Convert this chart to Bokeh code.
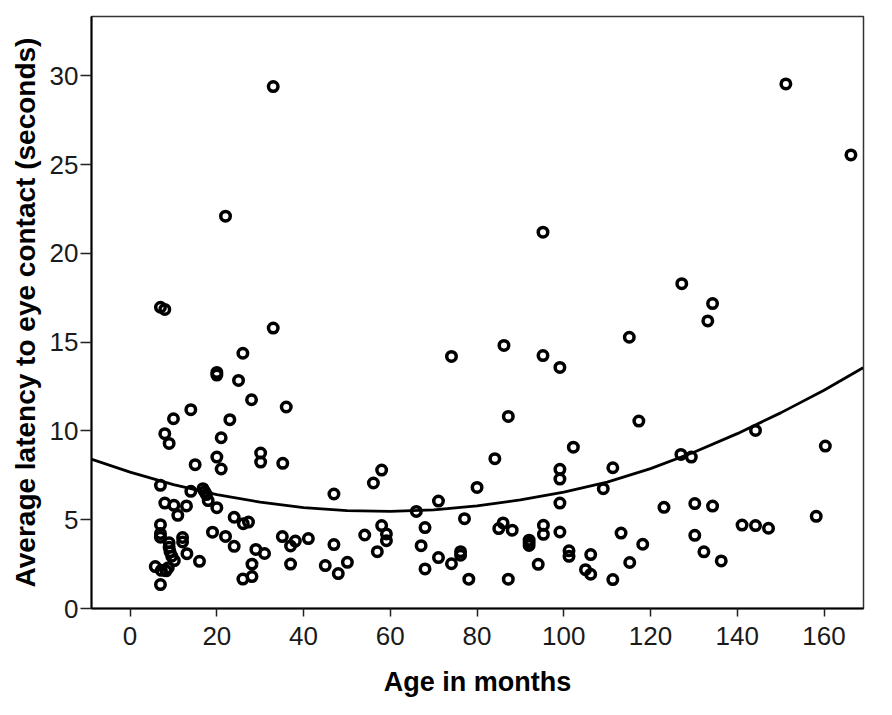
from bokeh.plotting import figure
from bokeh.models import Range1d, FixedTicker, ColumnDataSource
from bokeh.embed import file_html
from bokeh.resources import INLINE

# Scatter data: age in months vs. average latency (s)
age = [33.0, 151.2, 166.2, 22.0, 95.2, 127.2, 7.0, 8.0, 134.3, 133.2, 33.0, 115.1, 86.2, 26.0, 95.2, 74.1, 99.1,
       20.0, 20.0, 25.0, 28.0, 36.0, 14.0, 10.0, 23.0, 8.0, 9.0, 21.0, 20.0, 21.0, 15.0, 30.1, 30.1, 35.2,
       7.0, 14.0, 16.8, 17.2, 17.6, 18.0, 20.0, 8.0, 10.1, 13.0, 11.0, 24.0, 26.1, 27.3,
       7.0, 7.0, 7.0, 12.1, 12.1, 9.0, 9.0, 9.2, 9.6, 10.2,
       19.0, 22.0, 24.0, 13.1, 16.0,
       5.8, 7.2, 8.3, 8.8, 7.0,
       29.0, 31.0, 28.1, 26.0, 28.1,
       35.1, 37.0, 38.1, 41.1, 37.0,
       47.0, 47.0, 45.0, 48.0, 50.1,
       54.1, 56.1, 58.0, 58.0, 59.1, 59.1, 57.0,
       66.0, 68.0, 67.1, 68.0, 71.1, 71.1, 74.1, 76.2, 76.2, 77.1, 78.1, 80.0,
       84.1, 87.2, 86.0, 85.0, 88.1, 87.2, 92.0, 92.0, 92.0, 94.1, 95.3, 95.3,
       99.1, 99.1, 99.1, 99.1, 101.2, 101.2, 102.2, 105.0, 106.2, 106.2, 109.1, 111.3, 111.3, 113.2, 115.2, 117.3, 118.2,
       123.1, 127.0, 129.4, 130.2, 134.3, 130.2, 132.3, 136.3, 141.1, 144.2, 147.2, 144.2, 158.2, 160.3]
latency = [29.4, 29.55, 25.55, 22.1, 21.2, 18.3, 16.97, 16.85, 17.18, 16.2, 15.8, 15.28, 14.82, 14.38, 14.25, 14.2, 13.58,
           13.3, 13.15, 12.85, 11.76, 11.35, 11.2, 10.69, 10.64, 9.85, 9.3, 9.62, 8.53, 7.86, 8.1, 8.76, 8.25, 8.18,
           6.94, 6.6, 6.75, 6.58, 6.42, 6.08, 5.68, 5.94, 5.81, 5.78, 5.25, 5.14, 4.78, 4.87,
           4.72, 4.22, 4.02, 4.0, 3.75, 3.7, 3.45, 3.2, 2.95, 2.7,
           4.3, 4.06, 3.5, 3.09, 2.66,
           2.36, 2.15, 2.12, 2.3, 1.35,
           3.33, 3.1, 2.5, 1.66, 1.8,
           4.05, 3.52, 3.8, 3.94, 2.5,
           6.45, 3.6, 2.42, 1.97, 2.6,
           4.14, 7.07, 7.8, 4.67, 4.2, 3.82, 3.2,
           5.47, 4.56, 3.54, 2.23, 6.05, 2.87, 2.52, 3.2, 3.0, 5.06, 1.65, 6.82,
           8.44, 10.82, 4.82, 4.5, 4.41, 1.65, 3.85, 3.7, 3.55, 2.49, 4.69, 4.18,
           7.84, 7.29, 5.94, 4.31, 3.25, 2.94, 9.09, 2.19, 1.93, 3.04, 6.75, 7.93, 1.63, 4.25, 2.59, 10.56, 3.62,
           5.7, 8.68, 8.53, 5.91, 5.77, 4.12, 3.19, 2.68, 4.7, 4.67, 4.52, 10.03, 5.19, 9.15]

# Quadratic fit line
fit_age = [-9, 0, 10, 20, 30, 40, 50, 60, 70, 80, 90, 100, 110, 120, 130, 140, 150, 160, 169]
fit_latency = [8.42, 7.68, 6.98, 6.42, 5.99, 5.68, 5.51, 5.47, 5.56, 5.78, 6.12, 6.56, 7.12, 7.88, 8.8, 9.85, 11.02, 12.3, 13.56]

x_ticks = [0, 20, 40, 60, 80, 100, 120, 140, 160]
y_ticks = [0, 5, 10, 15, 20, 25, 30]

p = figure(width=884, height=707, output_backend="svg", toolbar_location=None,
           x_range=Range1d(-8.9, 169.1), y_range=Range1d(0, 33.35),
           min_border_left=91, min_border_right=21, min_border_top=16, min_border_bottom=99)
p.background_fill_color = "white"
p.border_fill_color = "white"
p.outline_line_color = "#333333"
p.outline_line_width = 1.5
p.xgrid.visible = False
p.ygrid.visible = False

src = ColumnDataSource(dict(x=age, y=latency))
p.line(fit_age, fit_latency, line_color="black", line_width=2.8)
p.scatter("x", "y", source=src, marker="circle", size=9.5, fill_alpha=0,
          line_color="black", line_width=3.5)

for ax in (p.xaxis[0], p.yaxis[0]):
    ax.axis_line_width = 2
    ax.axis_line_color = "black"
    ax.major_tick_line_color = "#222222"
    ax.major_tick_line_width = 1.5
    ax.major_tick_in = 0
    ax.minor_tick_line_color = None
    ax.major_label_text_font = "Liberation Sans"
    ax.major_label_text_font_size = "26px"
    ax.major_label_text_color = "#1a1a1a"
    ax.axis_label_text_font = "Liberation Sans"
    ax.axis_label_text_font_style = "bold"
    ax.axis_label_text_color = "black"

p.xaxis.ticker = FixedTicker(ticks=x_ticks)
p.yaxis.ticker = FixedTicker(ticks=y_ticks)
p.xaxis.major_tick_out = 8
p.yaxis.major_tick_out = 11
p.xaxis.major_label_standoff = 10
p.yaxis.major_label_standoff = 2
p.xaxis.axis_label = "Age in months"
p.yaxis.axis_label = "Average latency to eye contact (seconds)"
p.xaxis.axis_label_text_font_size = "27px"
p.yaxis.axis_label_text_font_size = "28px"
p.xaxis.axis_label_standoff = 19
p.yaxis.axis_label_standoff = 6

open("out.html", "w").write(file_html(p, INLINE))
